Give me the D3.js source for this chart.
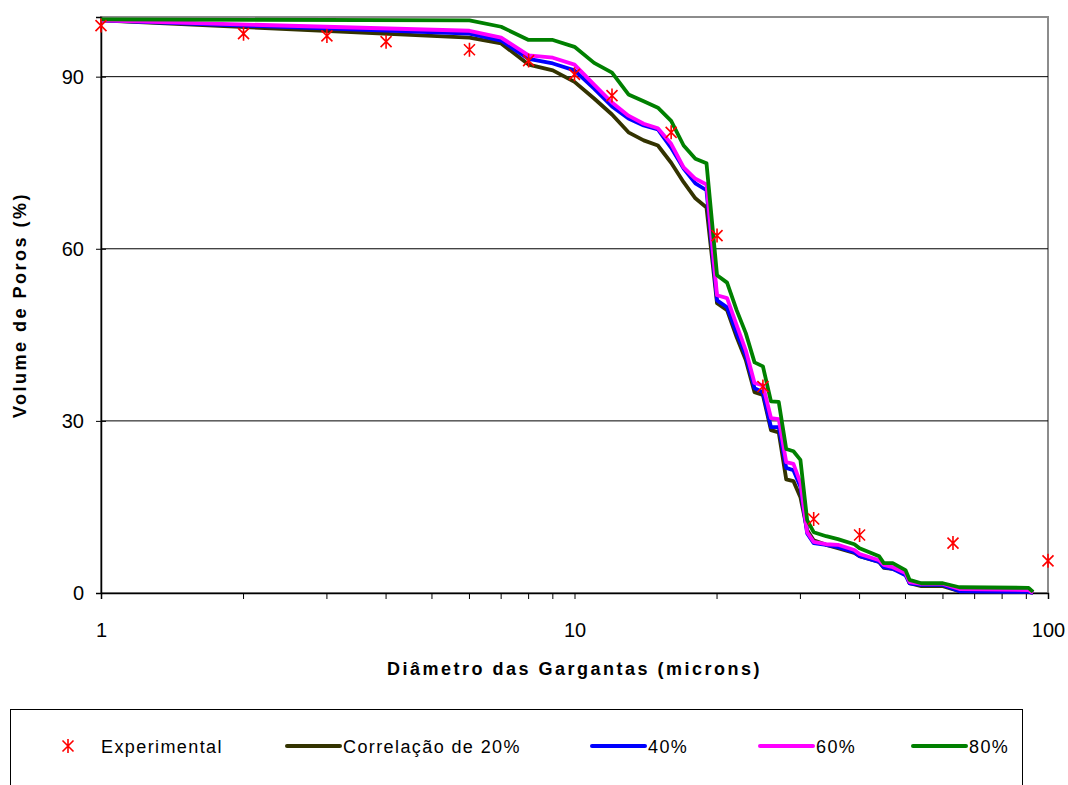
<!DOCTYPE html>
<html>
<head>
<meta charset="utf-8">
<script src="https://cdn.jsdelivr.net/npm/d3@7"></script>
<style>
  body { margin: 0; background: #fff; }
  text { font-family: "Liberation Sans", Arial, sans-serif; }
</style>
</head>
<body>
<div id="chart"></div>
<script>
var svgWidth = 1068;
var svgHeight = 785;

var margin = { top: 17, right: 20, bottom: 192, left: 101 };
var width = svgWidth - margin.left - margin.right;
var height = svgHeight - margin.top - margin.bottom;

// experimental points
var expDiam = [1, 2, 3, 4, 6, 8, 10, 12, 16, 20, 25, 32, 40, 63, 100];
var expVol = [98.9, 97.5, 97.1, 96.1, 94.7, 92.8, 90.4, 86.7, 80.3, 62.3, 36.0, 12.9, 10.1, 8.7, 5.6];

// diameters used by the correlation curves
var diam = [1, 6, 7, 8, 9, 10, 11, 12, 13, 14, 15, 16, 17, 18, 19, 20, 21, 22, 23, 24, 25,
  26, 27, 28, 29, 30, 31, 32, 34, 36, 39, 40, 44, 45, 47, 50, 51, 54, 60, 65, 91, 93];

var corr20 = [99.8, 96.8, 95.8, 92.1, 91.1, 89.1, 86.2, 83.4, 80.3, 78.9, 78.0, 75.0, 71.6, 68.8, 67.2,
  50.5, 49.3, 44.6, 40.6, 35.0, 34.5, 28.4, 28.0, 19.8, 19.5, 16.7, 11.0, 9.2, 8.4, 7.8, 7.0, 6.4,
  5.4, 4.4, 4.2, 3.5, 1.7, 1.2, 1.2, 0.3, 0.2, 0];
var corr40 = [99.8, 97.5, 96.3, 93.1, 92.3, 91.1, 87.9, 84.8, 82.7, 81.5, 80.8, 77.6, 74.0, 71.4, 70.2,
  51.0, 49.8, 45.3, 41.4, 35.7, 35.0, 28.9, 28.9, 21.8, 21.4, 18.5, 10.4, 8.7, 8.4, 8.0, 7.1, 6.4,
  5.4, 4.5, 4.2, 3.1, 1.7, 1.4, 1.4, 0.3, 0.2, 0];
var corr60 = [99.8, 98.0, 96.8, 93.7, 93.3, 92.1, 88.6, 85.5, 83.2, 81.8, 81.0, 78.3, 74.2, 72.2, 71.2,
  51.9, 51.4, 46.7, 42.3, 36.6, 36.2, 30.5, 30.3, 22.8, 22.5, 19.2, 10.6, 8.9, 8.5, 8.4, 7.5, 6.8,
  5.7, 4.9, 4.5, 3.5, 1.9, 1.6, 1.6, 0.7, 0.5, 0];
var corr80 = [100, 99.8, 98.7, 96.4, 96.4, 95.2, 92.4, 90.7, 86.9, 85.7, 84.6, 82.3, 78.0, 75.7, 74.9,
  55.4, 54.1, 49.3, 45.3, 40.2, 39.5, 33.4, 33.3, 25.1, 24.7, 23.2, 12.7, 10.6, 9.9, 9.4, 8.5, 7.8,
  6.4, 5.2, 5.2, 4.0, 2.3, 1.7, 1.7, 1.0, 0.9, 0.2];

var seriesNames = ["Correlação de 20%", "40%", "60%", "80%"];
var seriesColors = ["#333300", "#0000ff", "#ff00ff", "#008000"];
var seriesValues = [corr20, corr40, corr60, corr80];

var xTicks = [1, 10, 100];
var xMinor = [2, 3, 4, 5, 6, 7, 8, 9, 20, 30, 40, 50, 60, 70, 80, 90];
var yTicks = [0, 30, 60, 90];

var svg = d3.select("#chart")
  .append("svg")
  .attr("width", svgWidth)
  .attr("height", svgHeight);

var chartGroup = svg.append("g")
  .attr("transform", `translate(${margin.left}, ${margin.top})`);

var xScale = d3.scaleLog().domain([1, 100]).range([0, width]);
var yScale = d3.scaleLinear().domain([0, 100.4]).range([height, 0]);

// plot area border (grey)
chartGroup.append("rect")
  .attr("x", 0).attr("y", 0)
  .attr("width", width).attr("height", height)
  .attr("fill", "none")
  .attr("stroke", "#8c8c8c")
  .attr("stroke-width", 2);

// gridlines
chartGroup.selectAll("line.grid")
  .data(yTicks.filter(d => d > 0))
  .enter()
  .append("line")
  .attr("class", "grid")
  .attr("x1", 0).attr("x2", width)
  .attr("y1", d => yScale(d)).attr("y2", d => yScale(d))
  .attr("stroke", "#000")
  .attr("stroke-width", 1);

// y axis
var leftAxis = d3.axisLeft(yScale).tickValues(yTicks).tickSize(5).tickPadding(12);
var yAxis = chartGroup.append("g").call(leftAxis);
yAxis.select(".domain").attr("stroke", "#000").attr("stroke-width", 1.5);
yAxis.selectAll(".tick line").attr("x1", 5).attr("x2", -5);
yAxis.selectAll("text")
  .attr("font-size", "20px")
  .attr("font-family", "Liberation Sans, Arial, sans-serif")
  .attr("fill", "#000");

// x axis
var bottomAxis = d3.axisBottom(xScale).tickValues(xTicks).tickFormat(d3.format("d"))
  .tickSize(6).tickPadding(24);
var xAxis = chartGroup.append("g")
  .attr("transform", `translate(0, ${height})`)
  .call(bottomAxis);
xAxis.select(".domain").attr("stroke", "#000").attr("stroke-width", 1.5);
xAxis.selectAll("text")
  .attr("font-size", "20px")
  .attr("font-family", "Liberation Sans, Arial, sans-serif")
  .attr("fill", "#000");

xAxis.selectAll("line.minor")
  .data(xMinor)
  .enter()
  .append("line")
  .attr("class", "minor")
  .attr("x1", d => xScale(d)).attr("x2", d => xScale(d))
  .attr("y1", 0).attr("y2", 6)
  .attr("stroke", "#000");

// correlation curves
var line = d3.line()
  .x((d, i) => xScale(diam[i]))
  .y(d => yScale(d));

chartGroup.selectAll("path.curve")
  .data(seriesValues)
  .enter()
  .append("path")
  .attr("class", "curve")
  .attr("d", d => line(d))
  .attr("fill", "none")
  .attr("stroke", (d, i) => seriesColors[i])
  .attr("stroke-width", 3.8)
  .attr("stroke-linejoin", "round");

// experimental markers
var star = "M-5.5,-5.5L5.5,5.5M-5.5,5.5L5.5,-5.5M0,-7L0,7";
chartGroup.selectAll("path.exp")
  .data(expDiam)
  .enter()
  .append("path")
  .attr("class", "exp")
  .attr("transform", (d, i) => `translate(${xScale(d)}, ${yScale(expVol[i])})`)
  .attr("d", star)
  .attr("fill", "none")
  .attr("stroke", "#ff0000")
  .attr("stroke-width", 1.6);

// axis titles
chartGroup.append("text")
  .attr("x", width / 2)
  .attr("y", height + 82)
  .attr("text-anchor", "middle")
  .attr("font-size", "18px")
  .attr("font-weight", "bold")
  .attr("letter-spacing", "2.5px")
  .text("Diâmetro das Gargantas (microns)");

chartGroup.append("text")
  .attr("transform", "rotate(-90)")
  .attr("x", -height / 2)
  .attr("y", -75)
  .attr("text-anchor", "middle")
  .attr("font-size", "18px")
  .attr("font-weight", "bold")
  .attr("letter-spacing", "2.5px")
  .text("Volume de Poros (%)");

// legend
var legend = svg.append("g");
legend.append("rect")
  .attr("x", 10.5).attr("y", 709.5)
  .attr("width", 1012).attr("height", 100)
  .attr("fill", "#fff")
  .attr("stroke", "#000");

var legY = 746;
legend.append("path")
  .attr("transform", `translate(68, ${legY})`)
  .attr("d", star)
  .attr("fill", "none")
  .attr("stroke", "#ff0000")
  .attr("stroke-width", 1.6);
legend.append("text")
  .attr("x", 101).attr("y", legY + 7)
  .attr("font-size", "18px")
  .attr("letter-spacing", "1.4px")
  .text("Experimental");

var legX = [287, 592, 760, 913];
seriesNames.forEach(function(name, i) {
  legend.append("line")
    .attr("x1", legX[i]).attr("x2", legX[i] + 53)
    .attr("y1", legY).attr("y2", legY)
    .attr("stroke", seriesColors[i])
    .attr("stroke-width", 4)
    .attr("stroke-linecap", "round");
  legend.append("text")
    .attr("x", legX[i] + 56).attr("y", legY + 7)
    .attr("font-size", "18px")
    .attr("letter-spacing", "1.4px")
    .text(name);
});
</script>
</body>
</html>
